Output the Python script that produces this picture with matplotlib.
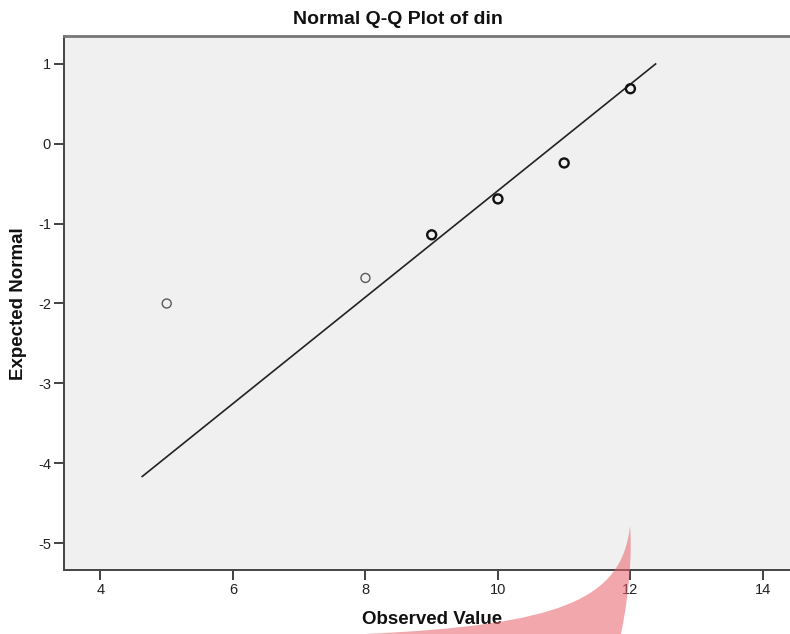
import matplotlib
matplotlib.use("Agg")
import matplotlib.pyplot as plt
from matplotlib.path import Path
from matplotlib.patches import PathPatch
import numpy as np

# Data
observed = [5, 8, 9, 10, 11, 12]
expected = [-2.00, -1.68, -1.14, -0.69, -0.24, 0.69]
counts = [1, 1, 3, 3, 4, 5]          # overlapping cases (darker rings)
line_x = [4.63, 12.38]
mean_val = 10.88
sd_val = 1.50
x_ticks = [4, 6, 8, 10, 12, 14]
y_ticks = [1, 0, -1, -2, -3, -4, -5]

plt.rcParams['font.family'] = ['Liberation Sans', 'DejaVu Sans']

W, H = 790, 634
fig = plt.figure(figsize=(W / 100, H / 100), dpi=100)
left, right, top, bottom = 63.5, 800, 36, 570
ax = fig.add_axes([left / W, 1 - bottom / H, (right - left) / W, (bottom - top) / H])
ax.set_facecolor('#F0F0F0')
ax.set_xlim(3.442, 14.56)
ax.set_ylim(-5.3375, 1.35)

# reference line
lx = np.array(line_x)
ly = (lx - mean_val) / sd_val
ax.plot(lx, ly, color='#222222', lw=1.2, zorder=2)

# points
for x, y, c in zip(observed, expected, counts):
    if c > 1:
        ax.scatter([x], [y], s=42, facecolors='none', edgecolors='#111111',
                   linewidths=1.7, zorder=3)
    else:
        ax.scatter([x], [y], s=42, facecolors='none', edgecolors='#5a5a5a',
                   linewidths=1.0, zorder=3)

ax.set_xticks(x_ticks)
ax.set_yticks(y_ticks)
ax.set_xticklabels([str(t) for t in x_ticks])
ax.set_yticklabels([str(t) for t in y_ticks])
ax.tick_params(axis='both', direction='out', length=7, width=1.3,
               color='#333333', labelsize=10.5, labelcolor='#222222')
ax.tick_params(axis='x', pad=2)
ax.tick_params(axis='y', pad=2)

for s in ['left', 'bottom', 'top']:
    ax.spines[s].set_color('#444444')
    ax.spines[s].set_linewidth(1.4)
ax.spines['top'].set_color('#777777')
ax.spines['top'].set_linewidth(2.0)
ax.spines['right'].set_visible(False)

fig.text(398 / W, 1 - 20 / H, 'Normal Q-Q Plot of din', ha='center', va='center',
         fontsize=14, fontweight='bold', color='#111111')
fig.text(432 / W, 1 - 619 / H, 'Observed Value', ha='center', va='center',
         fontsize=13.5, fontweight='bold', color='#111111')
fig.text(19 / W, 1 - 304 / H, 'Expected Normal', ha='center', va='center',
         rotation=90, fontsize=13.5, fontweight='bold', color='#111111')

# translucent red highlighter stroke overlaying the bottom of the image
pts = [(630, 526), (622, 600), (560, 625), (365, 634),
       (621, 634), (630, 590), (632, 550), (630, 526), (630, 526)]
codes = [Path.MOVETO, Path.CURVE4, Path.CURVE4, Path.CURVE4,
         Path.LINETO, Path.CURVE4, Path.CURVE4, Path.CURVE4, Path.CLOSEPOLY]
verts_fig = [(x / W, 1 - y / H) for x, y in pts]
patch = PathPatch(Path(verts_fig, codes), transform=fig.transFigure,
                  facecolor='#E8606A', edgecolor='none', alpha=0.55, zorder=10)
fig.patches.append(patch)

fig.savefig('out.png', dpi=100)
